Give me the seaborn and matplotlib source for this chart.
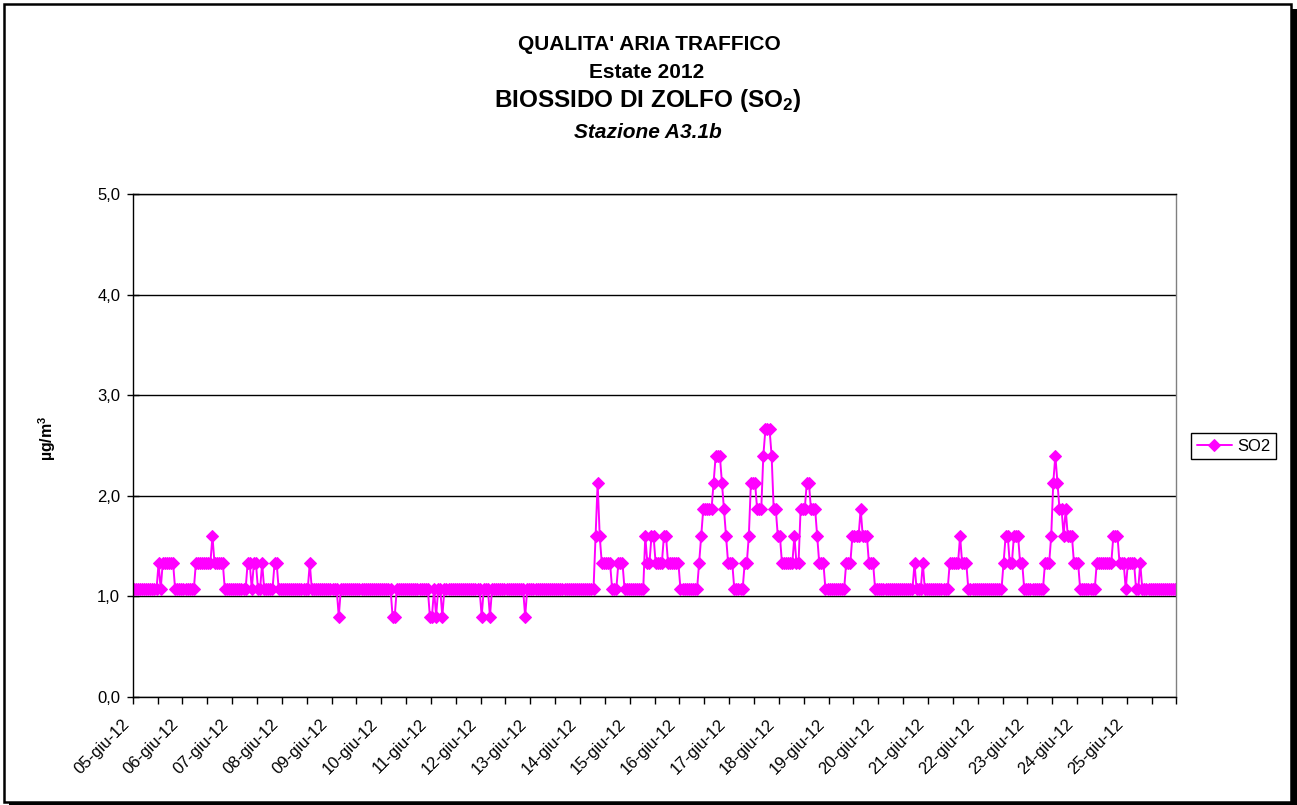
import numpy as np
import pandas as pd
import matplotlib
matplotlib.use("Agg")
import matplotlib.pyplot as plt
import matplotlib.transforms as mtransforms
from matplotlib.patches import Rectangle
import seaborn as sns

# =========================
# DATI (medie orarie SO2, ug/m3)
# =========================
day_labels = ["05-giu-12", "06-giu-12", "07-giu-12", "08-giu-12", "09-giu-12",
              "10-giu-12", "11-giu-12", "12-giu-12", "13-giu-12", "14-giu-12",
              "15-giu-12", "16-giu-12", "17-giu-12", "18-giu-12", "19-giu-12",
              "20-giu-12", "21-giu-12", "22-giu-12", "23-giu-12", "24-giu-12",
              "25-giu-12"]
y_ticks = [0, 1, 2, 3, 4, 5]
y_tick_labels = ["0,0", "1,0", "2,0", "3,0", "4,0", "5,0"]

d05 = [1.07, 1.07, 1.07, 1.07, 1.07, 1.07, 1.07, 1.07, 1.07, 1.07, 1.07, 1.07,
       1.33, 1.07, 1.33, 1.33, 1.33, 1.33, 1.33, 1.33, 1.07, 1.07, 1.07, 1.07]
d06 = [1.07, 1.07, 1.07, 1.07, 1.07, 1.07, 1.33, 1.33, 1.33, 1.33, 1.33, 1.33,
       1.33, 1.33, 1.60, 1.33, 1.33, 1.33, 1.33, 1.33, 1.07, 1.07, 1.07, 1.07]
d07 = [1.07, 1.07, 1.07, 1.07, 1.07, 1.07, 1.07, 1.33, 1.33, 1.07, 1.33, 1.33,
       1.07, 1.07, 1.33, 1.07, 1.07, 1.07, 1.07, 1.07, 1.33, 1.33, 1.07, 1.07]
d08 = [1.07, 1.07, 1.07, 1.07, 1.07, 1.07, 1.07, 1.07, 1.07, 1.07, 1.07, 1.07,
       1.07, 1.33, 1.07, 1.07, 1.07, 1.07, 1.07, 1.07, 1.07, 1.07, 1.07, 1.07]
d09 = [1.07, 1.07, 1.07, 0.80, 1.07, 1.07, 1.07, 1.07, 1.07, 1.07, 1.07, 1.07,
       1.07, 1.07, 1.07, 1.07, 1.07, 1.07, 1.07, 1.07, 1.07, 1.07, 1.07, 1.07]
d10 = [1.07, 1.07, 1.07, 1.07, 1.07, 0.80, 0.80, 1.07, 1.07, 1.07, 1.07, 1.07,
       1.07, 1.07, 1.07, 1.07, 1.07, 1.07, 1.07, 1.07, 1.07, 1.07, 1.07, 0.80]
d11 = [0.80, 1.07, 0.80, 1.07, 1.07, 0.80, 1.07, 1.07, 1.07, 1.07, 1.07, 1.07,
       1.07, 1.07, 1.07, 1.07, 1.07, 1.07, 1.07, 1.07, 1.07, 1.07, 1.07, 1.07]
d12 = [0.80, 1.07, 1.07, 1.07, 0.80, 1.07, 1.07, 1.07, 1.07, 1.07, 1.07, 1.07,
       1.07, 1.07, 1.07, 1.07, 1.07, 1.07, 1.07, 1.07, 1.07, 0.80, 1.07, 1.07]
d13 = [1.07, 1.07, 1.07, 1.07, 1.07, 1.07, 1.07, 1.07, 1.07, 1.07, 1.07, 1.07,
       1.07, 1.07, 1.07, 1.07, 1.07, 1.07, 1.07, 1.07, 1.07, 1.07, 1.07, 1.07]
d14 = [1.07, 1.07, 1.07, 1.07, 1.07, 1.07, 1.07, 1.60, 2.13, 1.60, 1.33, 1.33,
       1.33, 1.33, 1.33, 1.07, 1.07, 1.07, 1.33, 1.33, 1.33, 1.07, 1.07, 1.07]
d15 = [1.07, 1.07, 1.07, 1.07, 1.07, 1.07, 1.07, 1.60, 1.33, 1.33, 1.60, 1.60,
       1.33, 1.33, 1.33, 1.33, 1.60, 1.60, 1.33, 1.33, 1.33, 1.33, 1.33, 1.33]
d16 = [1.07, 1.07, 1.07, 1.07, 1.07, 1.07, 1.07, 1.07, 1.07, 1.33, 1.60, 1.87,
       1.87, 1.87, 1.87, 1.87, 2.13, 2.40, 2.40, 2.40, 2.13, 1.87, 1.60, 1.33]
d17 = [1.33, 1.33, 1.07, 1.07, 1.07, 1.07, 1.07, 1.33, 1.33, 1.60, 2.13, 2.13,
       2.13, 1.87, 1.87, 1.87, 2.40, 2.66, 2.66, 2.66, 2.40, 1.87, 1.87, 1.60]
d18 = [1.60, 1.33, 1.33, 1.33, 1.33, 1.33, 1.33, 1.60, 1.33, 1.33, 1.87, 1.87,
       1.87, 2.13, 2.13, 1.87, 1.87, 1.87, 1.60, 1.33, 1.33, 1.33, 1.07, 1.07]
d19 = [1.07, 1.07, 1.07, 1.07, 1.07, 1.07, 1.07, 1.07, 1.33, 1.33, 1.33, 1.60,
       1.60, 1.60, 1.60, 1.87, 1.60, 1.60, 1.60, 1.33, 1.33, 1.33, 1.07, 1.07]
d20 = [1.07, 1.07, 1.07, 1.07, 1.07, 1.07, 1.07, 1.07, 1.07, 1.07, 1.07, 1.07,
       1.07, 1.07, 1.07, 1.07, 1.07, 1.33, 1.07, 1.07, 1.07, 1.33, 1.07, 1.07]
d21 = [1.07, 1.07, 1.07, 1.07, 1.07, 1.07, 1.07, 1.07, 1.07, 1.07, 1.33, 1.33,
       1.33, 1.33, 1.33, 1.60, 1.33, 1.33, 1.33, 1.07, 1.07, 1.07, 1.07, 1.07]
d22 = [1.07, 1.07, 1.07, 1.07, 1.07, 1.07, 1.07, 1.07, 1.07, 1.07, 1.07, 1.07,
       1.33, 1.60, 1.60, 1.33, 1.33, 1.60, 1.60, 1.60, 1.33, 1.33, 1.07, 1.07]
d23 = [1.07, 1.07, 1.07, 1.07, 1.07, 1.07, 1.07, 1.07, 1.33, 1.33, 1.33, 1.60,
       2.13, 2.40, 2.13, 1.87, 1.87, 1.60, 1.87, 1.60, 1.60, 1.60, 1.33, 1.33]
d24 = [1.33, 1.07, 1.07, 1.07, 1.07, 1.07, 1.07, 1.07, 1.07, 1.33, 1.33, 1.33,
       1.33, 1.33, 1.33, 1.33, 1.33, 1.60, 1.60, 1.60, 1.33, 1.33, 1.33, 1.07]
d25 = [1.33, 1.33, 1.33, 1.33, 1.07, 1.07, 1.33, 1.07, 1.07, 1.07, 1.07, 1.07,
       1.07, 1.07, 1.07, 1.07, 1.07, 1.07, 1.07, 1.07, 1.07, 1.07, 1.07, 1.07]

so2 = (d05 + d06 + d07 + d08 + d09 + d10 + d11 + d12 + d13 + d14 + d15 + d16
       + d17 + d18 + d19 + d20 + d21 + d22 + d23 + d24 + d25)
n_ore = len(so2)
df = pd.DataFrame({"ora": np.arange(n_ore) + 0.5, "SO2": so2})

# =========================
# STILE
# =========================
sns.set_style("white")
plt.rcParams["font.family"] = ["Liberation Sans", "DejaVu Sans"]
plt.rcParams["text.color"] = "black"
plt.rcParams["axes.labelcolor"] = "black"
plt.rcParams["xtick.color"] = "black"
plt.rcParams["ytick.color"] = "black"
plt.rcParams["mathtext.fontset"] = "custom"
plt.rcParams["mathtext.rm"] = "Liberation Sans"
plt.rcParams["mathtext.bf"] = "Liberation Sans:bold"
plt.rcParams["mathtext.default"] = "bf"

W, H = 1297, 805
fig = plt.figure(figsize=(W / 100, H / 100), dpi=100)

# area grafico in pixel
x0, x1, y_top, y_bot = 132.7, 1176.5, 194, 697
ax = fig.add_axes([x0 / W, 1 - y_bot / H, (x1 - x0) / W, (y_bot - y_top) / H])

sns.lineplot(data=df, x="ora", y="SO2", ax=ax, color="#FF00FF",
             marker="D", markersize=6.2, markeredgecolor="#FF00FF",
             linewidth=1.4, label="SO2")

ax.set_xlim(0, n_ore)
ax.set_ylim(0, 5)
ax.set_yticks(y_ticks)
ax.set_yticklabels(y_tick_labels)
ax.yaxis.grid(True, color="black", linewidth=1)
ax.set_axisbelow(True)

xt = np.arange(0, n_ore + 1, 12)
xl = [day_labels[i // 24] if (i % 24 == 0 and i // 24 < len(day_labels)) else "" for i in xt]
ax.set_xticks(xt)
ax.set_xticklabels(xl, rotation=45, ha="right", va="center", rotation_mode="anchor")
ax.set_xlabel("")
ax.set_ylabel("")

ax.tick_params(axis="y", direction="inout", length=8, width=1, labelsize=12, pad=5,
               left=True, color="black", labelcolor="black")
ax.tick_params(axis="x", direction="out", length=5, width=1, labelsize=12, pad=13,
               bottom=True, color="black", labelcolor="black")
offset = mtransforms.ScaledTranslation(-6 / 100, 0, fig.dpi_scale_trans)
for lab in ax.get_xticklabels():
    lab.set_transform(lab.get_transform() + offset)

for s in ["left", "bottom", "top"]:
    ax.spines[s].set_color("black")
    ax.spines[s].set_linewidth(1)
ax.spines["right"].set_color("#808080")
ax.spines["right"].set_linewidth(1)

# =========================
# TESTI
# =========================
fig.text(649 / W, 1 - 45 / H, "QUALITA' ARIA TRAFFICO", ha="center", va="center",
         fontsize=15, fontweight="bold", color="black")
fig.text(647 / W, 1 - 72 / H, "Estate 2012", ha="center", va="center",
         fontsize=15, fontweight="bold", color="black")
fig.text(648 / W, 1 - 101 / H, "BIOSSIDO DI ZOLFO (SO$_2$)", ha="center", va="center",
         fontsize=17.5, fontweight="bold", color="black")
fig.text(648 / W, 1 - 132 / H, "Stazione A3.1b", ha="center", va="center",
         fontsize=15, fontweight="bold", fontstyle="italic", color="black")
fig.text(47 / W, 1 - 438 / H, "µg/m$^3$", rotation=90, ha="center", va="center",
         fontsize=11.5, fontweight="bold", color="black")

leg = ax.legend(loc="center left", bbox_to_anchor=(1191 / W, 1 - 446 / H),
                bbox_transform=fig.transFigure, frameon=True, fancybox=False,
                edgecolor="black", framealpha=1, fontsize=12, handlelength=2.1,
                handletextpad=0.3, borderpad=0.35, borderaxespad=0)
leg.get_frame().set_linewidth(1)
for t in leg.get_texts():
    t.set_color("black")

# cornice esterna con ombra
def px_rect(x, y, w, h, **kw):
    fig.add_artist(Rectangle((x / W, 1 - (y + h) / H), w / W, h / H,
                             transform=fig.transFigure, **kw))

px_rect(4, 4, 1287, 798, fill=False, edgecolor="black", linewidth=1.8)
px_rect(1291, 9, 6, 796, facecolor="black", edgecolor="none")
px_rect(9, 802, 1288, 3, facecolor="black", edgecolor="none")

fig.savefig("out.png", dpi=100)
plt.close(fig)
